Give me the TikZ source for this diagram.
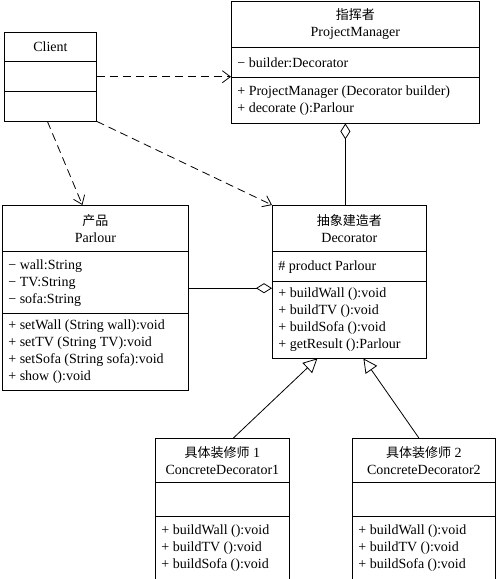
\documentclass[tikz,border=0pt]{standalone}
\usepackage{fontspec}
\setmainfont{Liberation Serif}
\newfontfamily\cjk{Noto Sans CJK SC}
\usetikzlibrary{arrows.meta}
\setlength{\arrayrulewidth}{0.8pt}
\newcommand{\headpart}[3]{\parbox[c][#1][c]{#2}{\centering #3}}
\newcommand{\listpart}[3]{\parbox[c][#1][c]{#2}{\raggedright\leftskip=6pt #3}}
\newcommand{\zh}[1]{{\cjk\fontsize{13}{17}\selectfont #1}}
\begin{document}
\begin{tikzpicture}[x=1pt, y=-1pt, line width=0.8pt, font=\fontsize{14}{17}\selectfont,
  dep/.style={dash pattern=on 8pt off 5pt, -{Straight Barb[length=8pt,width=12pt]}},
  gen/.style={-{Triangle[open,length=14pt,width=14pt]}},
  agg/.style={-{Diamond[open,length=16pt,width=10pt]}}]
\useasboundingbox (0,0) rectangle (500,579);
\node (client) [inner sep=0pt, anchor=north west] at (4,32) {
\begin{tabular}{@{}c@{}}
  \headpart{29pt}{92pt}{Client} \\
  \hline
  \listpart{29pt}{92pt}{} \\
  \hline
  \listpart{29pt}{92pt}{}
\end{tabular}
};
\node (pm) [inner sep=0pt, anchor=north west] at (231,1) {
\begin{tabular}{@{}c@{}}
  \headpart{46pt}{248pt}{\zh{指挥者}\\ProjectManager} \\
  \hline
  \listpart{29pt}{248pt}{− builder:Decorator} \\
  \hline
  \listpart{45pt}{248pt}{+ ProjectManager (Decorator builder)\\
    + decorate ():Parlour}
\end{tabular}
};
\node (parlour) [inner sep=0pt, anchor=north west] at (2,205) {
\begin{tabular}{@{}c@{}}
  \headpart{46pt}{186pt}{\zh{产品}\\Parlour} \\
  \hline
  \listpart{61pt}{186pt}{− wall:String\\
    − TV:String\\
    − sofa:String} \\
  \hline
  \listpart{76pt}{186pt}{+ setWall (String wall):void\\
    + setTV (String TV):void\\
    + setSofa (String sofa):void\\
    + show ():void}
\end{tabular}
};
\node (decorator) [inner sep=0pt, anchor=north west] at (272,205) {
\begin{tabular}{@{}c@{}}
  \headpart{46pt}{154pt}{\zh{抽象建造者}\\Decorator} \\
  \hline
  \listpart{29pt}{154pt}{\# product Parlour} \\
  \hline
  \listpart{76pt}{154pt}{+ buildWall ():void\\
    + buildTV ():void\\
    + buildSofa ():void\\
    + getResult ():Parlour}
\end{tabular}
};
\node (cdone) [inner sep=0pt, anchor=north west] at (155,438) {
\begin{tabular}{@{}c@{}}
  \headpart{44pt}{134pt}{\zh{具体装修师} 1\\ConcreteDecorator1} \\
  \hline
  \listpart{33pt}{134pt}{} \\
  \hline
  \listpart{62pt}{134pt}{+ buildWall ():void\\
    + buildTV ():void\\
    + buildSofa ():void}
\end{tabular}
};
\node (cdtwo) [inner sep=0pt, anchor=north west] at (352,438) {
\begin{tabular}{@{}c@{}}
  \headpart{44pt}{143pt}{\zh{具体装修师} 2\\ConcreteDecorator2} \\
  \hline
  \listpart{33pt}{143pt}{} \\
  \hline
  \listpart{62pt}{143pt}{+ buildWall ():void\\
    + buildTV ():void\\
    + buildSofa ():void}
\end{tabular}
};
\foreach \n in {client,pm,parlour,decorator,cdone,cdtwo}
  \draw (\n.north west) rectangle (\n.south east);
\draw [dep] (client.east) -- (client.east -| pm.west);
\draw [dep] ([xshift=-3pt]client.south) -- ([xshift=-13pt]parlour.north);
\draw [dep] (client.south east) -- (decorator.north west);
\draw [agg] ([xshift=-4pt]decorator.north) -- ([xshift=-4pt]decorator.north |- pm.south);
\coordinate (aggend) at ([yshift=-6.5pt]decorator.west);
\draw [agg] (parlour.east |- aggend) -- (aggend);
\draw [gen] ([xshift=11pt]cdone.north) -- ([xshift=-32pt]decorator.south);
\draw [gen] ([xshift=-5pt]cdtwo.north) -- ([xshift=14pt]decorator.south);
\end{tikzpicture}
\end{document}
